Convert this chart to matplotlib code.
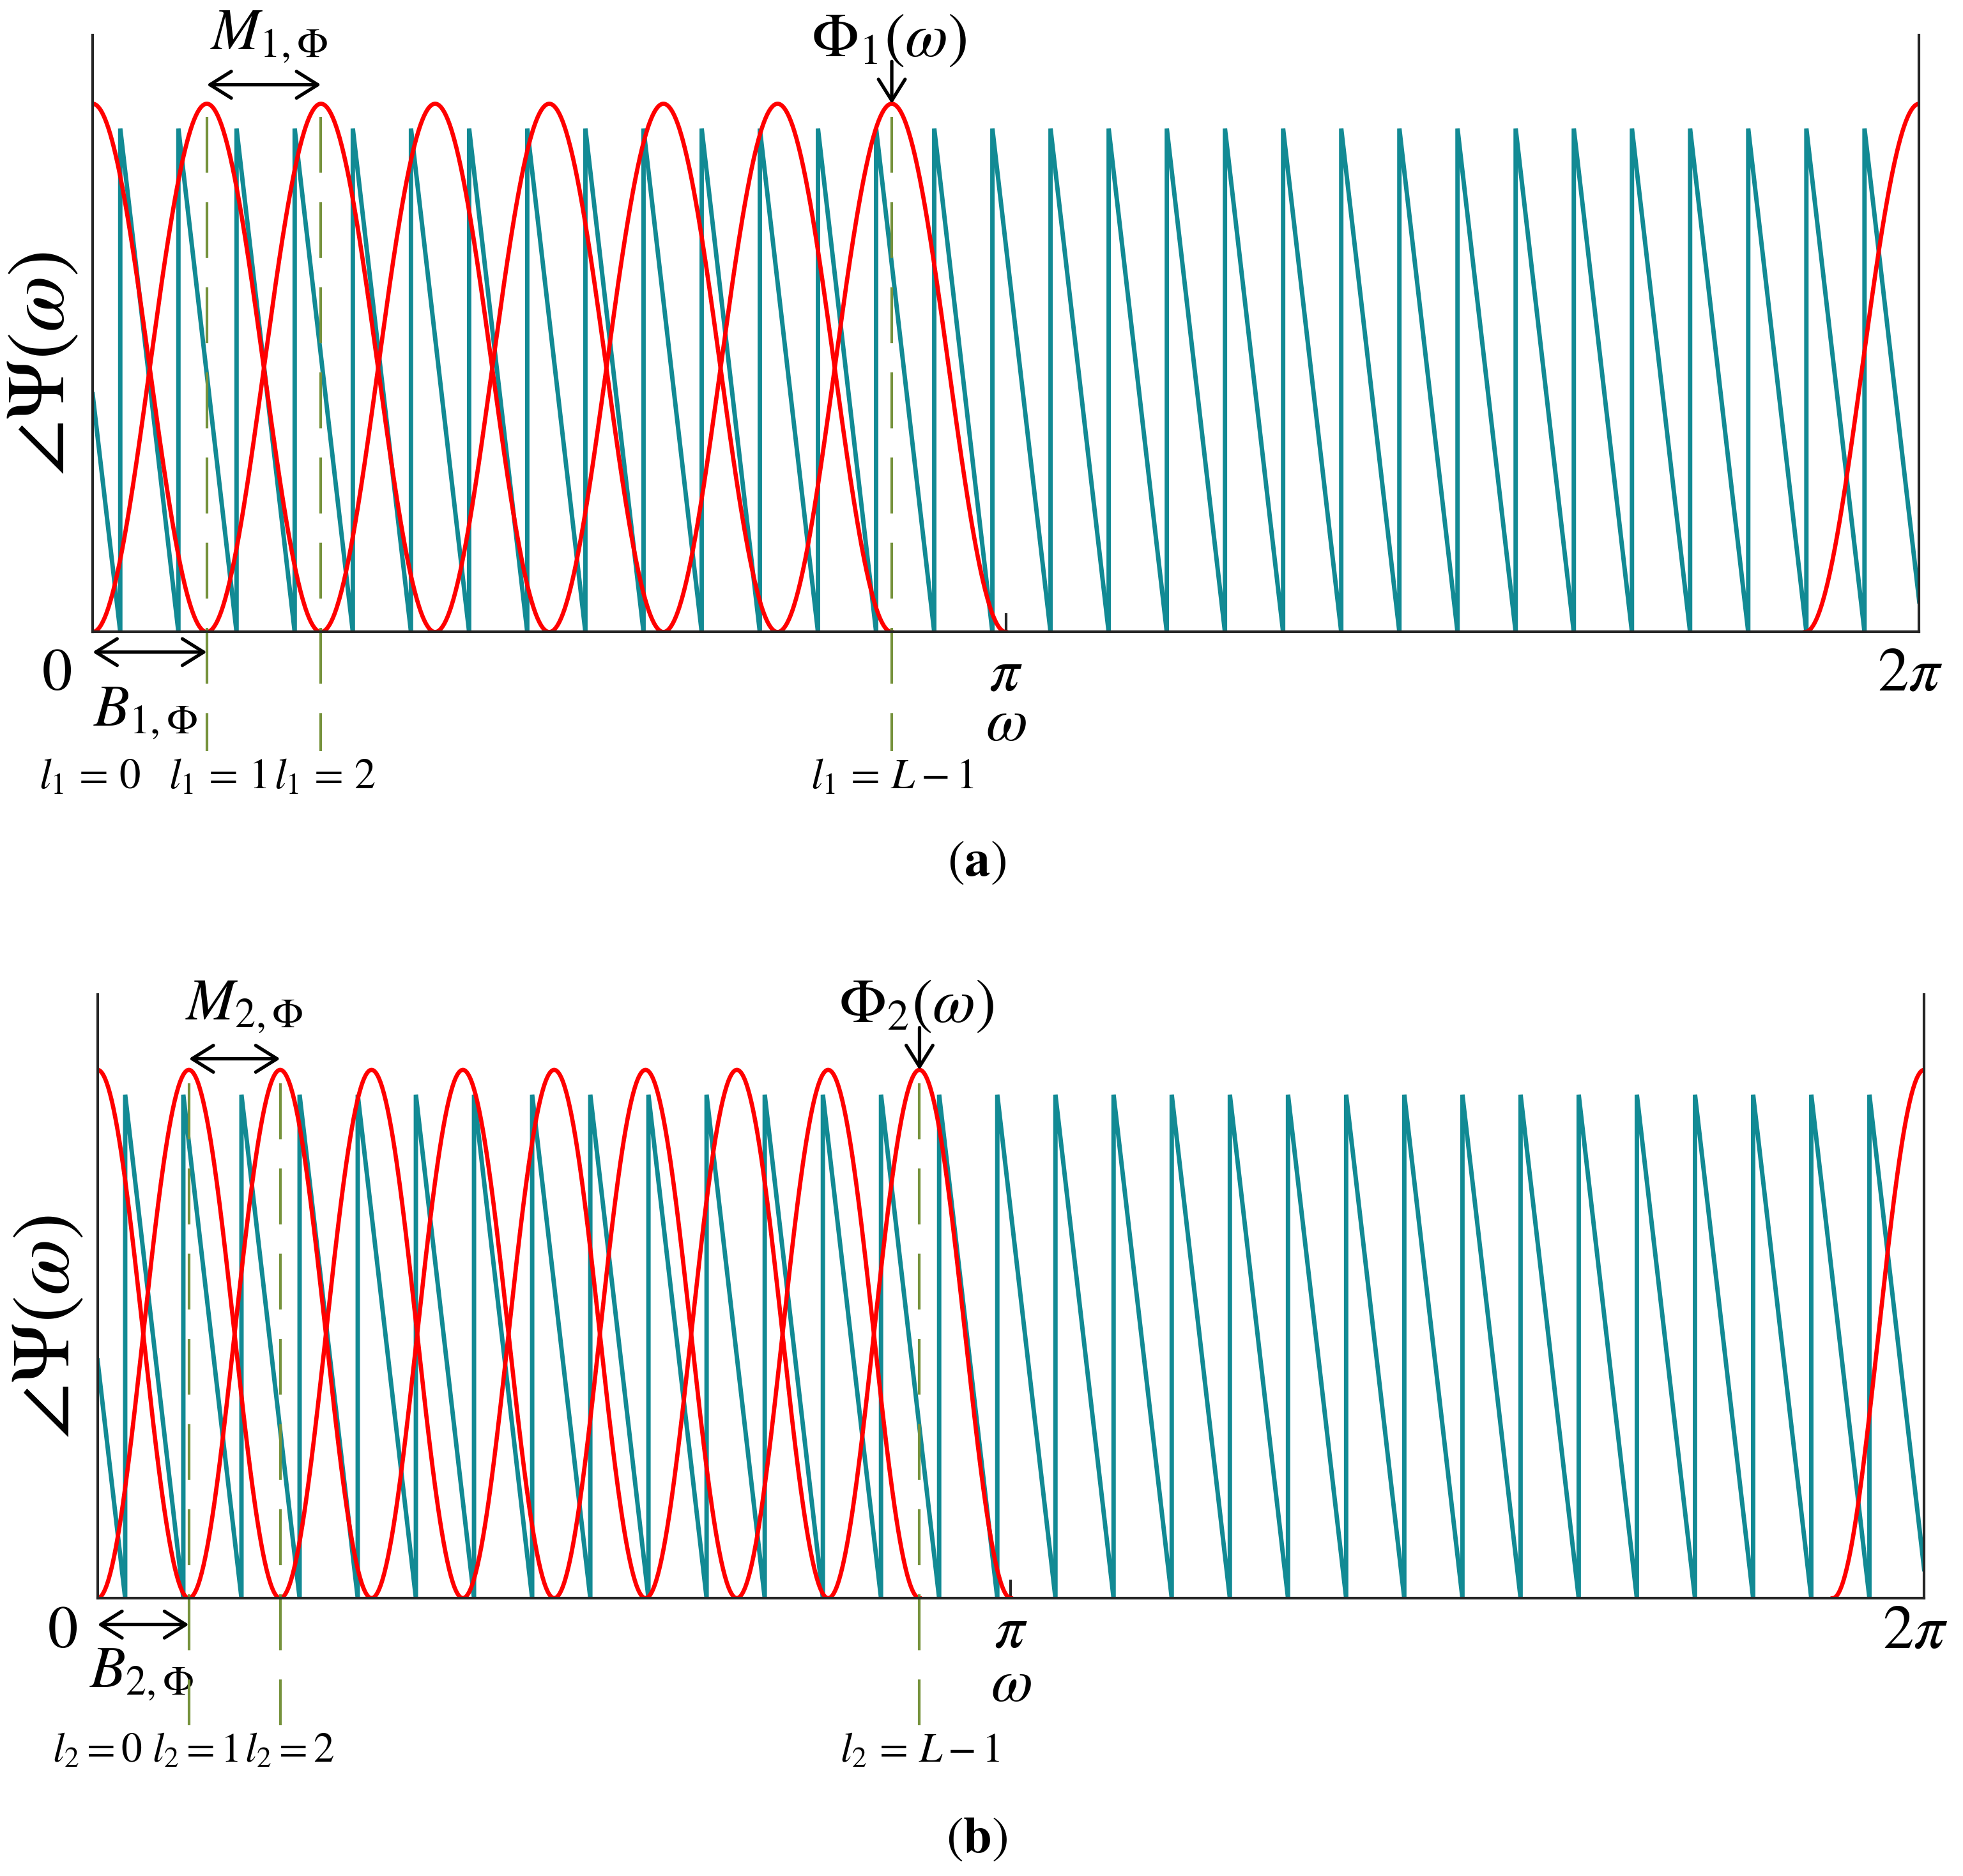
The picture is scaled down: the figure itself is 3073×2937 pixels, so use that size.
import numpy as np
import matplotlib
matplotlib.use('Agg')
from matplotlib import pyplot as plt

plt.rcParams['mathtext.fontset'] = 'stix'
plt.rcParams['font.family'] = ['STIXGeneral', 'DejaVu Serif']

# --- data (omega in rad, heights relative to lobe peak = 1) ---
lobe_centers_a = [0.0, 0.125, 0.25, 0.375, 0.5, 0.625, 0.75, 0.875, 2.0]   # x pi
lobe_halfwidth_a = 0.125                                                   # x pi
lobe_centers_b = [0.0, 0.1, 0.2, 0.3, 0.4, 0.5, 0.6, 0.7, 0.8, 0.9, 2.0]  # x pi
lobe_halfwidth_b = 0.1

saw_jumps = [0.095, 0.295, 0.495, 0.695, 0.895, 1.095, 1.295, 1.495, 1.695,
             1.895, 2.095, 2.295, 2.495, 2.695, 2.895, 3.095, 3.295, 3.495,
             3.695, 3.895, 4.095, 4.295, 4.495, 4.695, 4.895, 5.095, 5.295,
             5.495, 5.695, 5.895, 6.095]
saw_peak = 0.953
saw_start_a, saw_end_a = 0.45, 0.058
saw_start_b, saw_end_b = 0.45, 0.055

marked_l = [1, 2]          # dashed markers besides l = L-1
l_labels_a = [r'$l_1\,=\,0$', r'$l_1\,=\,1$', r'$l_1\,=\,2$', r'$l_1\,=\,L-1$']
l_labels_b = [r'$l_2=0$', r'$l_2=1$', r'$l_2=2$', r'$l_2\,=\,L-1$']

TEAL = '#128a94'
RED = '#ff0000'
GREEN = '#76923c'
AXC = '#262626'

fig = plt.figure(figsize=(30.73, 29.37), dpi=100)


def saw_xy(jumps, start, end):
    xs = [0.0]
    ys = [start]
    for j in jumps:
        xs += [j, j]
        ys += [0.0, saw_peak]
    xs.append(2 * np.pi)
    ys.append(end)
    return xs, ys


def panel(rect, ytop, centers, hw, start, end, idx, lab, lfs, ys):
    ax = fig.add_axes(rect)
    ax.set_xlim(0, 2 * np.pi)
    ax.set_ylim(0, ytop)
    for s in ['left', 'right', 'bottom']:
        ax.spines[s].set_color(AXC)
        ax.spines[s].set_linewidth(3.0)
        ax.spines[s].set_zorder(6)
    ax.spines['top'].set_visible(False)
    ax.set_yticks([])
    ax.set_xticks([np.pi])
    ax.set_xticklabels([''])
    ax.tick_params(axis='x', direction='in', length=21, width=3.0, color=AXC)

    sx, sy = saw_xy(saw_jumps, start, end)
    ax.plot(sx, sy, color=TEAL, lw=5.0, solid_joinstyle='miter', zorder=2)

    M = hw * np.pi
    for c in centers:
        c = c * np.pi
        x = np.linspace(max(c - M, 0), min(c + M, 2 * np.pi), 200)
        y = (1 + np.cos(np.pi * (x - c) / M)) / 2
        ax.plot(x, y, color=RED, lw=4.8, zorder=3)

    L = len(centers) - 1
    marks = [k * M for k in marked_l] + [(L - 1) * M]
    for xm in marks:
        ax.plot([xm, xm], [0.975, ys['dash']], color=GREEN, lw=3.0,
                dashes=(21, 11), clip_on=False, zorder=4)

    arr = dict(arrowstyle='<->,head_length=1.2,head_width=0.75', color='k',
               lw=3.8, shrinkA=0, shrinkB=0, mutation_scale=20)
    ax.annotate('', xy=(0, ys['barr']), xytext=(M, ys['barr']),
                arrowprops=arr, annotation_clip=False)
    ax.annotate('', xy=(M, ys['marr']), xytext=(2 * M, ys['marr']),
                arrowprops=arr, annotation_clip=False)
    ax.annotate('', xy=((L - 1) * M, 1.0), xytext=((L - 1) * M, 1.08),
                arrowprops=dict(arrowstyle='->,head_length=1.2,head_width=0.75',
                                color='k', lw=3.8, shrinkA=0, shrinkB=0,
                                mutation_scale=20),
                annotation_clip=False)

    kw = dict(ha='center', va='center', clip_on=False)
    ax.text(ys['zx'], ys['tick'], r'$0$', fontsize=68, **kw)
    ax.text(np.pi, ys['tick'], r'$\pi$', fontsize=68, **kw)
    ax.text(2 * np.pi - 0.03, ys['tick'], r'$2\pi$', fontsize=70, **kw)
    ax.text(np.pi, ys['omega'], r'$\omega$', fontsize=68, **kw)
    ax.text(ys['bx'], ys['blab'], r'$B_{%d,\Phi}$' % idx, fontsize=66, **kw)
    ax.text(ys['mx'], ys['mlab'], r'$M_{%d,\Phi}$' % idx, fontsize=66, **kw)
    ax.text((L - 1) * M - 0.01, ys['plab'], r'$\Phi_%d(\omega)$' % idx,
            fontsize=70, **kw)
    for x, t in zip(ys['lx'], lab):
        ax.text(x, ys['llab'], t, fontsize=lfs, **kw)
    ax.text(-0.026, 0.45, r'$\angle\Psi(\omega)$', fontsize=92, rotation=90,
            ha='center', va='center', transform=ax.transAxes)
    return ax


panel([0.0472, 0.6631, 0.9305, 0.3182], 1.13, lobe_centers_a, lobe_halfwidth_a,
      saw_start_a, saw_end_a, 1, l_labels_a, 48,
      dict(dash=-0.226, barr=-0.038, marr=1.036, tick=-0.083, omega=-0.178,
           blab=-0.154, mlab=1.126, plab=1.118, llab=-0.277,
           zx=-0.125, bx=0.18, mx=0.607,
           lx=[-0.01, 0.43, 0.80, 2.75]))
panel([0.0497, 0.1481, 0.9305, 0.3216], 1.142, lobe_centers_b, lobe_halfwidth_b,
      saw_start_b, saw_end_b, 2, l_labels_b, 47,
      dict(dash=-0.24, barr=-0.05, marr=1.021, tick=-0.066, omega=-0.168,
           blab=-0.145, mlab=1.118, plab=1.118, llab=-0.291,
           zx=-0.121, bx=0.15, mx=0.504,
           lx=[0.0, 0.335, 0.66, 2.83]))

fig.text(0.4975, 1 - 690 / 1499, r'$(\mathbf{a})$', fontsize=58,
         ha='center', va='center')
fig.text(0.4975, 1 - 1470 / 1499, r'$(\mathbf{b})$', fontsize=58,
         ha='center', va='center')

fig.savefig('out.png', dpi=100, facecolor='white')
